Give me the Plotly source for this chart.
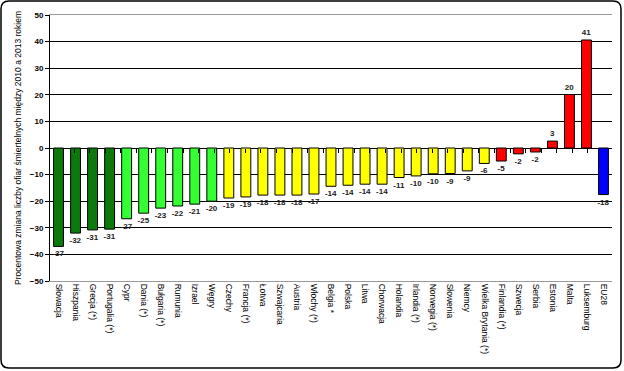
import plotly.graph_objects as go

countries = ["Słowacja", "Hiszpania", "Grecja (*)", "Portugalia (*)", "Cypr", "Dania (*)",
             "Bułgaria (*)", "Rumunia", "Izrael", "Węgry", "Czechy", "Francja (*)", "Łotwa",
             "Szwajcaria", "Austria", "Włochy (*)", "Belgia *", "Polska", "Litwa", "Chorwacja",
             "Holandia", "Irlandia (*)", "Norwegia (*)", "Słowenia", "Niemcy",
             "Wielka Brytania (*)", "Finlandia (*)", "Szwecja", "Serbia", "Estonia", "Malta",
             "Luksemburg", "EU28"]
values = [-37.0, -32.0, -30.8, -30.5, -26.6, -24.5, -22.6, -21.8, -21.1, -20.0, -18.8, -18.4,
          -17.7, -17.7, -17.7, -17.3, -14.4, -14.0, -13.6, -13.6, -11.1, -10.5, -9.7, -9.6,
          -8.6, -5.8, -4.9, -2.2, -1.5, 2.6, 20.1, 40.6, -17.5]
labels = ["-37", "-32", "-31", "-31", "-27", "-25", "-23", "-22", "-21", "-20", "-19", "-19",
          "-18", "-18", "-18", "-17", "-14", "-14", "-14", "-14", "-11", "-10", "-10", "-9",
          "-9", "-6", "-5", "-2", "-2", "3", "20", "41", "-18"]
groups = ["dark"] * 4 + ["light"] * 6 + ["yellow"] * 16 + ["red"] * 6 + ["eu"]
palette = {"dark": "#0B7A0B", "light": "#33FF33", "yellow": "#FFFF00", "red": "#FF0000", "eu": "#0000FF"}
colors = [palette[g] for g in groups]

y_ticks = [50, 40, 30, 20, 10, 0, -10, -20, -30, -40, -50]
y_title = "Procentowa zmiana liczby ofiar śmiertelnych między 2010 a 2013 rokiem"

# chart frame (rounded rectangle around the whole figure), in paper fractions
W, H = 562.0, 266.0  # plot area size in px
def px(x):
    return (x - 50) / W
def py(y):
    return (281 - y) / H
r = 8
L, R, T, B = 1, 621, 1, 368
frame_path = (
    f"M {px(L + r)},{py(T)} L {px(R - r)},{py(T)} Q {px(R)},{py(T)} {px(R)},{py(T + r)} "
    f"L {px(R)},{py(B - r)} Q {px(R)},{py(B)} {px(R - r)},{py(B)} "
    f"L {px(L + r)},{py(B)} Q {px(L)},{py(B)} {px(L)},{py(B - r)} "
    f"L {px(L)},{py(T + r)} Q {px(L)},{py(T)} {px(L + r)},{py(T)} Z"
)

fig = go.Figure()
fig.add_trace(go.Bar(
    x=countries, y=values, text=labels, textposition="outside", constraintext="none",
    cliponaxis=False,
    textfont=dict(family="Liberation Sans", size=8, color="#222222", weight="bold"),
    marker=dict(color=colors, line=dict(color="black", width=1)),
    showlegend=False, hoverinfo="x+y",
))
# invisible companion trace for the tick marks on the zero line
fig.add_trace(go.Scatter(
    x=countries, y=values, xaxis="x2", mode="markers", marker=dict(opacity=0),
    hoverinfo="skip", showlegend=False,
))

fig.update_layout(
    width=624, height=371,
    margin=dict(l=50, r=12, t=15, b=90, autoexpand=False),
    paper_bgcolor="white", plot_bgcolor="white",
    bargap=0.42,
    font=dict(family="Liberation Sans", color="black"),
    xaxis=dict(
        type="category", tickangle=90, showgrid=False, ticks="", automargin=False,
        showline=True, linecolor="#999999", linewidth=1, mirror=True,
        tickfont=dict(size=8.5, family="Liberation Sans", color="black"),
    ),
    xaxis2=dict(
        type="category", overlaying="x", anchor="free", position=0.5, side="bottom",
        showticklabels=False, ticks="outside", ticklen=4, tickwidth=1, tickcolor="black",
        tickson="boundaries", showgrid=False, showline=False, zeroline=False, automargin=False,
    ),
    yaxis=dict(
        range=[-50, 50], tickvals=y_ticks, ticks="outside", ticklen=4, tickcolor="black",
        showgrid=True, gridcolor="black", gridwidth=1, automargin=False,
        zeroline=True, zerolinecolor="black", zerolinewidth=1,
        showline=True, linecolor="black", linewidth=1,
        tickfont=dict(size=8, family="Liberation Sans", color="black", weight="bold"),
        title=dict(text=y_title, font=dict(size=8.5, family="Liberation Sans", color="black"),
                   standoff=6),
    ),
    shapes=[
        dict(type="path", xref="paper", yref="paper", path=frame_path,
             line=dict(color="black", width=1.5), layer="below"),
    ],
)

fig.write_html("out.html", config={"displayModeBar": False},
               post_script="document.body.style.margin='0';")
